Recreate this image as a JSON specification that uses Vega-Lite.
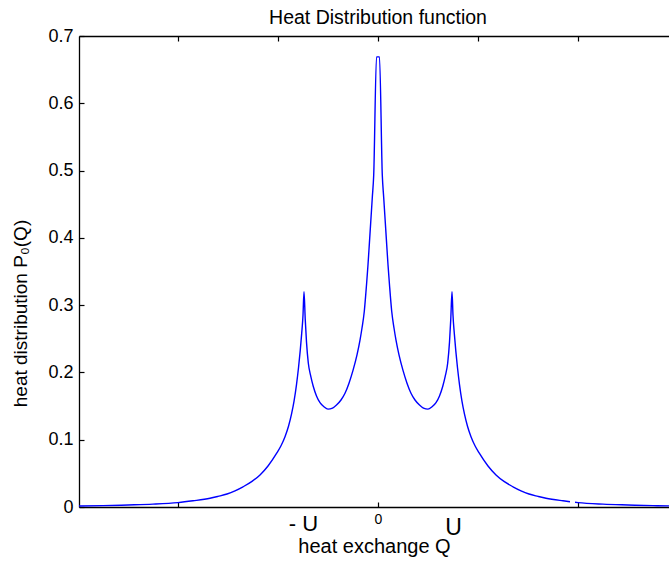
{
  "$schema": "https://vega.github.io/schema/vega-lite/v6.json",
  "width": 590,
  "height": 471,
  "autosize": "none",
  "padding": {"left": 79, "top": 36, "right": 0, "bottom": 56},
  "background": "white",
  "title": {
    "text": "Heat Distribution function",
    "font": "Liberation Sans",
    "fontSize": 19.5,
    "fontWeight": "normal",
    "color": "black",
    "baseline": "bottom",
    "offset": 10,
    "dx": 4,
    "dy": 30
  },
  "config": {
    "view": {"stroke": null},
    "axis": {
      "domainColor": "black",
      "domainWidth": 1.3,
      "tickColor": "black",
      "tickWidth": 1.2,
      "labelColor": "black",
      "titleColor": "black",
      "labelFont": "Liberation Sans",
      "titleFont": "Liberation Sans",
      "titleFontWeight": "normal",
      "grid": false,
      "labelOverlap": false,
      "labelFlush": false
    }
  },
  "data": {
    "values": [
      {"x": -2.99, "y": 0.0015, "seg": "a"},
      {"x": -2.75, "y": 0.002, "seg": "a"},
      {"x": -2.5, "y": 0.003, "seg": "a"},
      {"x": -2.25, "y": 0.0042, "seg": "a"},
      {"x": -2.0, "y": 0.0065, "seg": "a"},
      {"x": -1.85, "y": 0.0092, "seg": "a"},
      {"x": -1.68, "y": 0.013, "seg": "a"},
      {"x": -1.6, "y": 0.0158, "seg": "a"},
      {"x": -1.51, "y": 0.0193, "seg": "a"},
      {"x": -1.43, "y": 0.024, "seg": "a"},
      {"x": -1.35, "y": 0.03, "seg": "a"},
      {"x": -1.26, "y": 0.038, "seg": "a"},
      {"x": -1.18, "y": 0.0476, "seg": "a"},
      {"x": -1.1, "y": 0.061, "seg": "a"},
      {"x": -1.013, "y": 0.08, "seg": "a"},
      {"x": -0.97, "y": 0.091, "seg": "a"},
      {"x": -0.93, "y": 0.1045, "seg": "a"},
      {"x": -0.895, "y": 0.12, "seg": "a"},
      {"x": -0.865, "y": 0.138, "seg": "a"},
      {"x": -0.84, "y": 0.157, "seg": "a"},
      {"x": -0.815, "y": 0.182, "seg": "a"},
      {"x": -0.795, "y": 0.207, "seg": "a"},
      {"x": -0.778, "y": 0.232, "seg": "a"},
      {"x": -0.763, "y": 0.258, "seg": "a"},
      {"x": -0.75, "y": 0.285, "seg": "a"},
      {"x": -0.74, "y": 0.32, "seg": "a"},
      {"x": -0.728, "y": 0.28, "seg": "a"},
      {"x": -0.715, "y": 0.245, "seg": "a"},
      {"x": -0.697, "y": 0.214, "seg": "a"},
      {"x": -0.672, "y": 0.194, "seg": "a"},
      {"x": -0.647, "y": 0.179, "seg": "a"},
      {"x": -0.615, "y": 0.165, "seg": "a"},
      {"x": -0.58, "y": 0.155, "seg": "a"},
      {"x": -0.54, "y": 0.149, "seg": "a"},
      {"x": -0.5, "y": 0.1455, "seg": "a"},
      {"x": -0.455, "y": 0.147, "seg": "a"},
      {"x": -0.415, "y": 0.1515, "seg": "a"},
      {"x": -0.37, "y": 0.159, "seg": "a"},
      {"x": -0.33, "y": 0.169, "seg": "a"},
      {"x": -0.29, "y": 0.184, "seg": "a"},
      {"x": -0.25, "y": 0.203, "seg": "a"},
      {"x": -0.21, "y": 0.226, "seg": "a"},
      {"x": -0.18, "y": 0.248, "seg": "a"},
      {"x": -0.16, "y": 0.266, "seg": "a"},
      {"x": -0.137, "y": 0.291, "seg": "a"},
      {"x": -0.115, "y": 0.33, "seg": "a"},
      {"x": -0.1, "y": 0.36, "seg": "a"},
      {"x": -0.087, "y": 0.39, "seg": "a"},
      {"x": -0.072, "y": 0.425, "seg": "a"},
      {"x": -0.057, "y": 0.46, "seg": "a"},
      {"x": -0.043, "y": 0.493, "seg": "a"},
      {"x": -0.015, "y": 0.669, "seg": "a"},
      {"x": 0.015, "y": 0.669, "seg": "a"},
      {"x": 0.043, "y": 0.493, "seg": "a"},
      {"x": 0.057, "y": 0.46, "seg": "a"},
      {"x": 0.072, "y": 0.425, "seg": "a"},
      {"x": 0.087, "y": 0.39, "seg": "a"},
      {"x": 0.1, "y": 0.36, "seg": "a"},
      {"x": 0.115, "y": 0.33, "seg": "a"},
      {"x": 0.137, "y": 0.291, "seg": "a"},
      {"x": 0.16, "y": 0.266, "seg": "a"},
      {"x": 0.18, "y": 0.248, "seg": "a"},
      {"x": 0.21, "y": 0.226, "seg": "a"},
      {"x": 0.25, "y": 0.203, "seg": "a"},
      {"x": 0.29, "y": 0.184, "seg": "a"},
      {"x": 0.33, "y": 0.169, "seg": "a"},
      {"x": 0.37, "y": 0.159, "seg": "a"},
      {"x": 0.415, "y": 0.1515, "seg": "a"},
      {"x": 0.455, "y": 0.147, "seg": "a"},
      {"x": 0.5, "y": 0.1455, "seg": "a"},
      {"x": 0.54, "y": 0.149, "seg": "a"},
      {"x": 0.58, "y": 0.155, "seg": "a"},
      {"x": 0.615, "y": 0.165, "seg": "a"},
      {"x": 0.647, "y": 0.179, "seg": "a"},
      {"x": 0.672, "y": 0.194, "seg": "a"},
      {"x": 0.697, "y": 0.214, "seg": "a"},
      {"x": 0.715, "y": 0.245, "seg": "a"},
      {"x": 0.728, "y": 0.28, "seg": "a"},
      {"x": 0.74, "y": 0.32, "seg": "a"},
      {"x": 0.75, "y": 0.285, "seg": "a"},
      {"x": 0.763, "y": 0.258, "seg": "a"},
      {"x": 0.778, "y": 0.232, "seg": "a"},
      {"x": 0.795, "y": 0.207, "seg": "a"},
      {"x": 0.815, "y": 0.182, "seg": "a"},
      {"x": 0.84, "y": 0.157, "seg": "a"},
      {"x": 0.865, "y": 0.138, "seg": "a"},
      {"x": 0.895, "y": 0.12, "seg": "a"},
      {"x": 0.93, "y": 0.1045, "seg": "a"},
      {"x": 0.97, "y": 0.091, "seg": "a"},
      {"x": 1.013, "y": 0.08, "seg": "a"},
      {"x": 1.1, "y": 0.061, "seg": "a"},
      {"x": 1.18, "y": 0.0476, "seg": "a"},
      {"x": 1.26, "y": 0.038, "seg": "a"},
      {"x": 1.35, "y": 0.03, "seg": "a"},
      {"x": 1.43, "y": 0.024, "seg": "a"},
      {"x": 1.51, "y": 0.0193, "seg": "a"},
      {"x": 1.6, "y": 0.0158, "seg": "a"},
      {"x": 1.68, "y": 0.013, "seg": "a"},
      {"x": 1.85, "y": 0.0092, "seg": "a"},
      {"x": 1.92, "y": 0.0079, "seg": "a"},
      {"x": 1.97, "y": 0.007, "seg": "b"},
      {"x": 2.0, "y": 0.0065, "seg": "b"},
      {"x": 2.25, "y": 0.0042, "seg": "b"},
      {"x": 2.5, "y": 0.003, "seg": "b"},
      {"x": 2.75, "y": 0.002, "seg": "b"},
      {"x": 2.91, "y": 0.0017, "seg": "b"}
    ]
  },
  "layer": [
    {
      "mark": {"type": "line", "color": "#0000ff", "strokeWidth": 1.4, "clip": true, "interpolate": "monotone"},
      "encoding": {
        "x": {
          "field": "x",
          "type": "quantitative",
          "scale": {"domain": [-2.99, 2.91], "nice": false, "zero": false},
          "axis": {
            "orient": "bottom",
            "values": [-2, -0.75, 0, 0.75, 2],
            "labelExpr": "datum.value == 0 ? '0' : (datum.value == -0.75 ? '- U' : (datum.value == 0.75 ? 'U' : ''))",
            "tickSize": -5,
            "tickOpacity": {"condition": {"test": "abs(datum.value) == 0.75", "value": 0}, "value": 1},
            "labelBaseline": "middle",
            "labelFontSize": {"condition": [{"test": "datum.value == 0", "value": 14}, {"test": "datum.value == 0.75", "value": 23}], "value": 22},
            "labelPadding": {"condition": [{"test": "datum.value == 0", "value": 17}, {"test": "datum.value == 0.75", "value": 25}], "value": 21},
            "title": "heat exchange Q",
            "titleFontSize": 20,
            "titlePadding": -3
          }
        },
        "y": {
          "field": "y",
          "type": "quantitative",
          "scale": {"domain": [0, 0.7], "nice": false, "zero": false},
          "axis": {
            "values": [0, 0.1, 0.2, 0.3, 0.4, 0.5, 0.6, 0.7],
            "format": "~g",
            "tickSize": -5,
            "labelPadding": 11,
            "labelFontSize": 18,
            "title": "heat distribution  P₀(Q)",
            "titleFontSize": 19,
            "titleBaseline": "middle",
            "titleX": -59,
            "titleY": 277
          }
        },
        "detail": {"field": "seg"}
      }
    },
    {
      "mark": {"type": "line", "strokeOpacity": 0},
      "encoding": {
        "x": {
          "field": "x",
          "type": "quantitative",
          "axis": {
            "orient": "top",
            "values": [-2, -1, 0, 1, 2],
            "labels": false,
            "tickSize": -5,
            "title": null
          }
        },
        "y": {"field": "y", "type": "quantitative"},
        "detail": {"field": "seg"}
      }
    }
  ],
  "resolve": {"axis": {"x": "independent"}}
}
